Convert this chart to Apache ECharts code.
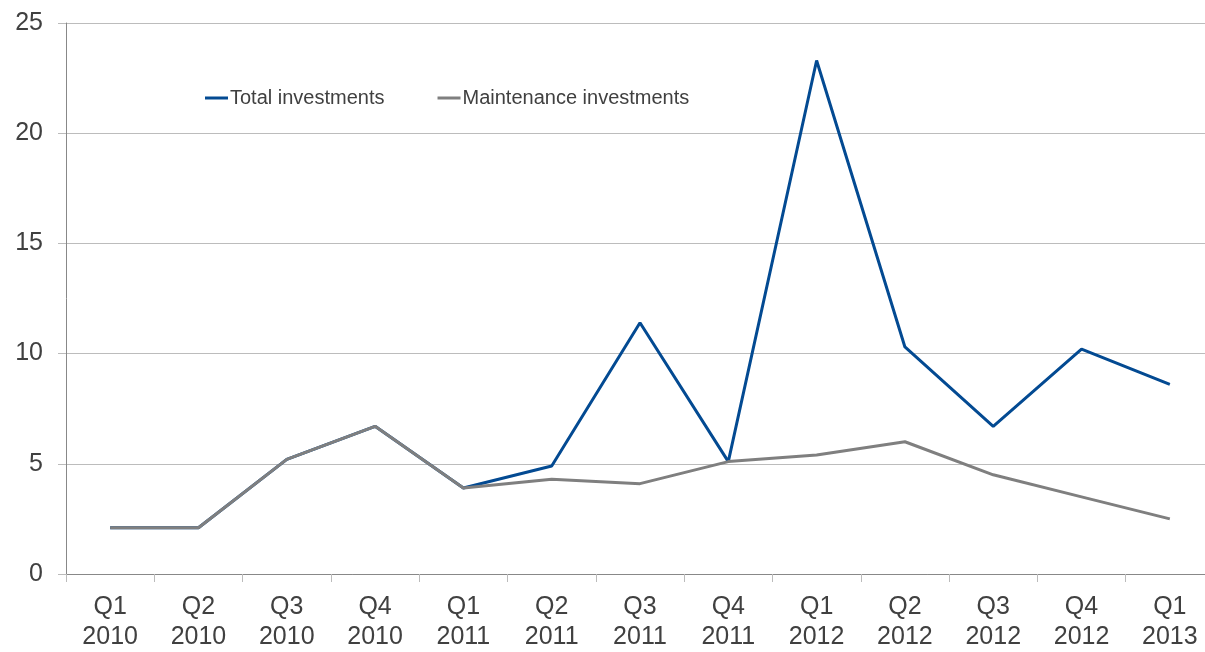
<!DOCTYPE html>
<html>
<head>
<meta charset="utf-8">
<script src="https://cdn.jsdelivr.net/npm/echarts@6/dist/echarts.min.js"></script>
<style>
  html, body { margin: 0; padding: 0; background: #fff; overflow: hidden; }
  #wrap { width: 1205px; height: 652px; overflow: hidden; }
  #chart { width: 1214px; height: 652px; }
</style>
</head>
<body>
<div id="wrap"><div id="chart"></div></div>
<script>
// 数据
const categories = ['Q1\n2010', 'Q2\n2010', 'Q3\n2010', 'Q4\n2010', 'Q1\n2011', 'Q2\n2011', 'Q3\n2011',
  'Q4\n2011', 'Q1\n2012', 'Q2\n2012', 'Q3\n2012', 'Q4\n2012', 'Q1\n2013']
const totalInvestments = [2.1, 2.1, 5.2, 6.7, 3.9, 4.9, 11.4, 5.1, 23.3, 10.3, 6.7, 10.2, 8.6]
const maintenanceInvestments = [2.1, 2.1, 5.2, 6.7, 3.9, 4.3, 4.1, 5.1, 5.4, 6.0, 4.5, 3.5, 2.5]

const FONT = '"Liberation Sans", Arial, sans-serif'
const TEXT_COLOR = '#404040'

const chart = echarts.init(document.getElementById('chart'))

const options = {
  animation: false,
  grid: {
    left: 66,
    right: 0,
    top: 23,
    bottom: 78,
    containLabel: false
  },
  legend: {
    left: 205,
    top: 88,
    padding: 0,
    itemWidth: 23,
    itemHeight: 3,
    itemGap: 53,
    icon: 'rect',
    textStyle: {
      fontFamily: FONT,
      fontSize: 20,
      color: TEXT_COLOR,
      padding: [0, 0, 0, -3]
    },
    data: ['Total investments', 'Maintenance investments']
  },
  xAxis: {
    type: 'category',
    boundaryGap: true,
    data: categories,
    axisLine: { show: true, lineStyle: { color: '#888', width: 1 } },
    axisTick: { show: true, length: 8, lineStyle: { color: '#bbb' } },
    axisLabel: {
      interval: 0,
      margin: 18,
      fontFamily: FONT,
      fontSize: 25,
      lineHeight: 30,
      color: TEXT_COLOR
    },
    splitLine: { show: false }
  },
  yAxis: {
    type: 'value',
    min: 0,
    max: 25,
    interval: 5,
    axisLine: { show: true, lineStyle: { color: '#888', width: 1 } },
    axisTick: { show: true, length: 8, lineStyle: { color: '#bbb' } },
    axisLabel: {
      margin: 23,
      fontFamily: FONT,
      fontSize: 25,
      color: TEXT_COLOR
    },
    splitLine: { show: true, lineStyle: { color: '#bcbcbc', width: 1 } }
  },
  series: [
    {
      name: 'Total investments',
      type: 'line',
      data: totalInvestments,
      color: '#034a92',
      symbol: 'none',
      lineStyle: { width: 3, color: '#034a92' }
    },
    {
      name: 'Maintenance investments',
      type: 'line',
      data: maintenanceInvestments,
      color: '#7f7f7f',
      symbol: 'none',
      lineStyle: { width: 3, color: '#7f7f7f' }
    }
  ]
}

chart.setOption(options)
</script>
</body>
</html>
